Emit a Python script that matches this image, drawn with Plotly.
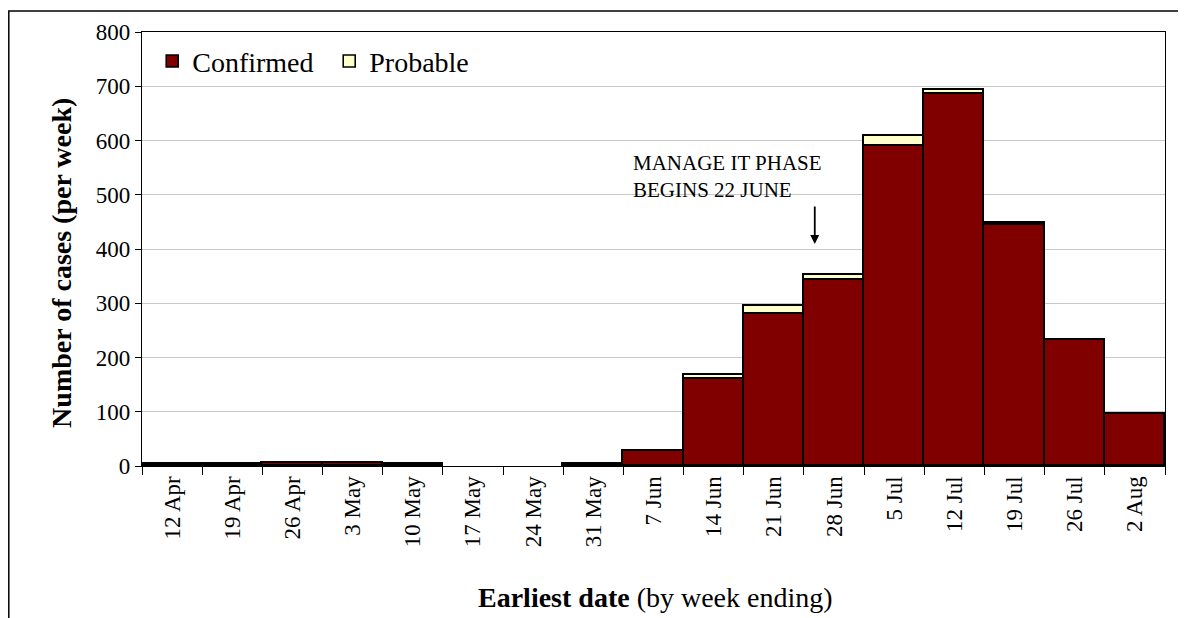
import plotly.graph_objects as go

weeks = ["12 Apr", "19 Apr", "26 Apr", "3 May", "10 May", "17 May", "24 May", "31 May",
         "7 Jun", "14 Jun", "21 Jun", "28 Jun", "5 Jul", "12 Jul", "19 Jul", "26 Jul", "2 Aug"]
confirmed = [3, 2, 6, 6, 2, 0, 0, 3, 27, 160, 280, 342, 590, 685, 445, 232, 96]
probable = [0, 1, 0, 0, 1, 0, 0, 0, 0, 8, 15, 11, 18, 8, 3, 0, 0]
y_ticks = [0, 100, 200, 300, 400, 500, 600, 700, 800]

FONT = "Liberation Serif"


def nz(values):
    # zero-height weeks are left empty (no outline drawn)
    return [v if v else None for v in values]


fig = go.Figure()
fig.add_trace(go.Bar(x=weeks, y=nz(confirmed), name="Confirmed",
                     marker=dict(color="#800000", line=dict(color="black", width=1.6))))
fig.add_trace(go.Bar(x=weeks, y=nz(probable), name="Probable",
                     marker=dict(color="#FFFFCC", line=dict(color="black", width=1.6))))

fig.update_layout(
    width=1186, height=618,
    barmode="stack", bargap=0,
    paper_bgcolor="white", plot_bgcolor="white",
    margin=dict(l=134, r=29, t=22, b=160),
    font=dict(family=FONT, color="black"),
    showlegend=True,
    legend=dict(orientation="h", x=0.01, y=0.99, xanchor="left", yanchor="top",
                font=dict(size=28, family=FONT), bgcolor="rgba(0,0,0,0)",
                traceorder="normal", entrywidth=132, entrywidthmode="pixels"),
    xaxis=dict(type="category", tickangle=-90, tickfont=dict(size=23, family=FONT),
               showline=True, linecolor="black", linewidth=1.2, mirror=True,
               ticks="outside", tickson="boundaries", ticklen=8, tickcolor="black",
               showgrid=False),
    yaxis=dict(range=[0, 800], tickvals=y_ticks, tickfont=dict(size=23, family=FONT),
               showline=True, linecolor="black", linewidth=1.2, mirror=True,
               ticks="outside", ticklen=6, tickcolor="black",
               showgrid=True, gridcolor="#C8C8C8", gridwidth=1, zeroline=False),
)

# axis titles
fig.add_annotation(xref="paper", yref="paper", x=-0.0782, y=0.468, textangle=-90,
                   text="<b>Number of cases (per week)</b>", showarrow=False,
                   font=dict(size=28, family=FONT), xanchor="center", yanchor="middle")
fig.add_annotation(xref="paper", yref="paper", x=0.5024, y=-0.3028, yanchor="middle",
                   text="<b>Earliest date</b> (by week ending)", showarrow=False,
                   font=dict(size=28, family=FONT))

# phase annotation
fig.add_annotation(xref="x", yref="y", x=7.62, y=534, xanchor="left", yanchor="middle",
                   text="MANAGE IT PHASE<br>BEGINS 22 JUNE", showarrow=False, align="left",
                   font=dict(size=21, family=FONT))
fig.add_annotation(xref="x", yref="y", x=10.68, y=409, ax=10.68, ay=481,
                   axref="x", ayref="y", text="", showarrow=True, arrowhead=2,
                   arrowsize=1, arrowwidth=1.8, arrowcolor="black")

# outer frame
fig.add_shape(type="rect", xref="paper", yref="paper", x0=-0.1302, x1=1.04, y0=-0.42, y1=1.0486,
              line=dict(color="black", width=1.5), fillcolor="rgba(0,0,0,0)", layer="below")

fig.write_html("out.html")
